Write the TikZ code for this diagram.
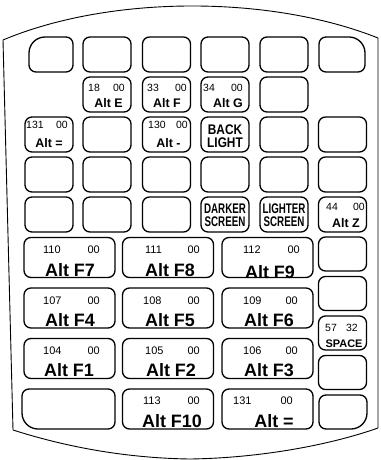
\documentclass[tikz,border=0pt]{standalone}
\usepackage{fontspec}
\setmainfont{Liberation Sans}
\newfontfamily\narrowsans[FakeStretch=0.7]{Liberation Sans}
\newfontfamily\semisans[FakeStretch=0.85]{Liberation Sans}
\tikzset{
  keyline/.style={line width=1.3bp, draw=black},
  keycap/.style={keyline, rounded corners=7bp, inner sep=0pt,
    minimum width=48bp, minimum height=35bp},
  bigcap/.style={keycap, minimum width=91bp, minimum height=40bp},
  sidecap/.style={keycap, minimum height=34bp},
  % texts on the keys
  code/.style={inner sep=0pt, font=\fontsize{10.5}{12}\selectfont},
  bigcode/.style={inner sep=0pt, font=\fontsize{11}{12}\selectfont},
  smalllbl/.style={inner sep=0pt, font=\bfseries\fontsize{12.5}{14}\selectfont},
  biglbl/.style={inner sep=0pt, font=\bfseries\fontsize{18}{20}\selectfont},
  spacelbl/.style={inner sep=0pt, font=\bfseries\fontsize{11}{12}\selectfont},
  twoline/.style={inner sep=0pt, align=center,
    font=\narrowsans\bfseries\fontsize{14}{13}\selectfont},
}

\begin{document}
\begin{tikzpicture}[x=1bp, y=-1bp]
  \useasboundingbox (0,0) rectangle (380,460);
  % case outline
  \draw[line width=0.9bp] (3,40) .. controls (110,-5) and (270,-5) .. (378,38)
    -- (378,428) .. controls (330,445) and (260,458) .. (190,459)
    .. controls (120,458) and (60,445) .. (13,430) -- cycle;

  % corner keys
  \draw[keyline, rounded corners=7bp] (51,72) -- (29,72) [rounded corners=16bp]
    -- (29,37) [rounded corners=7bp] -- (73,37) -- (73,72) -- cycle;
  \draw[keyline, rounded corners=7bp] (342,72) -- (319,72) -- (319,37)
    [rounded corners=16bp] -- (365,37) [rounded corners=7bp] -- (365,72) -- cycle;
  \draw[keyline, rounded corners=7bp] (68,389) -- (22,389) [rounded corners=16bp]
    -- (22,429) [rounded corners=7bp] -- (115,429) -- (115,389) -- cycle;
  \draw[keyline, rounded corners=7bp] (343,395) -- (367,395) [rounded corners=16bp]
    -- (367,429) [rounded corners=7bp] -- (319,429) -- (319,395) -- cycle;

  % small keys
  \foreach \c/\x in {2/107,3/166.5,4/225,5/284} {
    \node[keycap] (k1\c) at (\x,54.5) {};
    \node[keycap] (k2\c) at (\x,94.5) {};
  }
  \foreach \r/\y in {3/134.5,4/174.5,5/214.5}
    \foreach \c/\x in {1/49,2/107,3/166.5,4/225,5/284,6/342.5}
      \node[keycap] (k\r\c) at (\x,\y) {};

  % big keys
  \foreach \r/\y in {6/257.5,7/308,8/358.5}
    \foreach \c/\x in {1/69.5,2/168,3/267.5}
      \node[bigcap] (b\r\c) at (\x,\y) {};
  \node[bigcap] (b92) at (168,409) {};
  \node[bigcap] (b93) at (267.5,409) {};

  % right column
  \foreach \r/\y in {6/254,7/293.5,8/333,9/372.5}
    \node[sidecap] (s\r) at (342.5,\y) {};

  % labels, small keys
  \node[code, anchor=west] (k22n) at (88,88) {18};
  \node[code, anchor=east] (k22m) at (125,88) {00};
  \node[smalllbl] (k22l) at (108.5,103) {Alt E};
  \node[code, anchor=west] (k23n) at (147,88) {33};
  \node[code, anchor=east] (k23m) at (187,88) {00};
  \node[smalllbl] (k23l) at (167,103) {Alt F};
  \node[code, anchor=west] (k24n) at (203,88) {34};
  \node[code, anchor=east] (k24m) at (243,88) {00};
  \node[smalllbl] (k24l) at (228,103) {Alt G};
  \node[code, anchor=west] (k31n) at (26,125) {131};
  \node[code, anchor=east] (k31m) at (68,125) {00};
  \node[smalllbl] (k31l) at (49,143) {Alt =};
  \node[code, anchor=west] (k33n) at (148,125) {130};
  \node[code, anchor=east] (k33m) at (188,125) {00};
  \node[smalllbl] (k33l) at (168.5,143) {Alt -};
  \node[twoline, font=\semisans\bfseries\fontsize{14}{13}\selectfont]
    (k34l) at (225,136.5) {BACK\\LIGHT};
  \node[twoline] (k54l) at (225,215.5) {DARKER\\SCREEN};
  \node[twoline] (k55l) at (284,215.5) {LIGHTER\\SCREEN};
  \node[code, anchor=west] (k56n) at (326,207) {44};
  \node[code, anchor=east] (k56m) at (365,207) {00};
  \node[smalllbl] (k56l) at (346,223) {Alt Z};
  \node[code, anchor=west] (s8n) at (325,328) {57};
  \node[code, anchor=east] (s8m) at (358,328) {32};
  \node[spacelbl] (s8l) at (344,344) {SPACE};

  % labels, big keys
  \node[bigcode, anchor=west] (b61n) at (43,250) {110};
  \node[bigcode, anchor=east] (b61m) at (100,250) {00};
  \node[biglbl] (b61l) at (70,270) {Alt F7};
  \node[bigcode, anchor=west] (b62n) at (145,250) {111};
  \node[bigcode, anchor=east] (b62m) at (200,250) {00};
  \node[biglbl] (b62l) at (170,270) {Alt F8};
  \node[bigcode, anchor=west] (b63n) at (243,250) {112};
  \node[bigcode, anchor=east] (b63m) at (300,250) {00};
  \node[biglbl] (b63l) at (270,272) {Alt F9};
  \node[bigcode, anchor=west] (b71n) at (43,301) {107};
  \node[bigcode, anchor=east] (b71m) at (100,301) {00};
  \node[biglbl] (b71l) at (70,320) {Alt F4};
  \node[bigcode, anchor=west] (b72n) at (143,301) {108};
  \node[bigcode, anchor=east] (b72m) at (200,301) {00};
  \node[biglbl] (b72l) at (170,320) {Alt F5};
  \node[bigcode, anchor=west] (b73n) at (243,301) {109};
  \node[bigcode, anchor=east] (b73m) at (298,301) {00};
  \node[biglbl] (b73l) at (269,320) {Alt F6};
  \node[bigcode, anchor=west] (b81n) at (43,351) {104};
  \node[bigcode, anchor=east] (b81m) at (100,351) {00};
  \node[biglbl] (b81l) at (69,370) {Alt F1};
  \node[bigcode, anchor=west] (b82n) at (145,351) {105};
  \node[bigcode, anchor=east] (b82m) at (200,351) {00};
  \node[biglbl] (b82l) at (171,370) {Alt F2};
  \node[bigcode, anchor=west] (b83n) at (243,351) {106};
  \node[bigcode, anchor=east] (b83m) at (298,351) {00};
  \node[biglbl] (b83l) at (269,370) {Alt F3};
  \node[bigcode, anchor=west] (b92n) at (143,401) {113};
  \node[bigcode, anchor=east] (b92m) at (200,401) {00};
  \node[biglbl] (b92l) at (172,421) {Alt F10};
  \node[bigcode, anchor=west] (b93n) at (233,401) {131};
  \node[bigcode, anchor=east] (b93m) at (293,401) {00};
  \node[biglbl] (b93l) at (274,421) {Alt =};
\end{tikzpicture}
\end{document}
